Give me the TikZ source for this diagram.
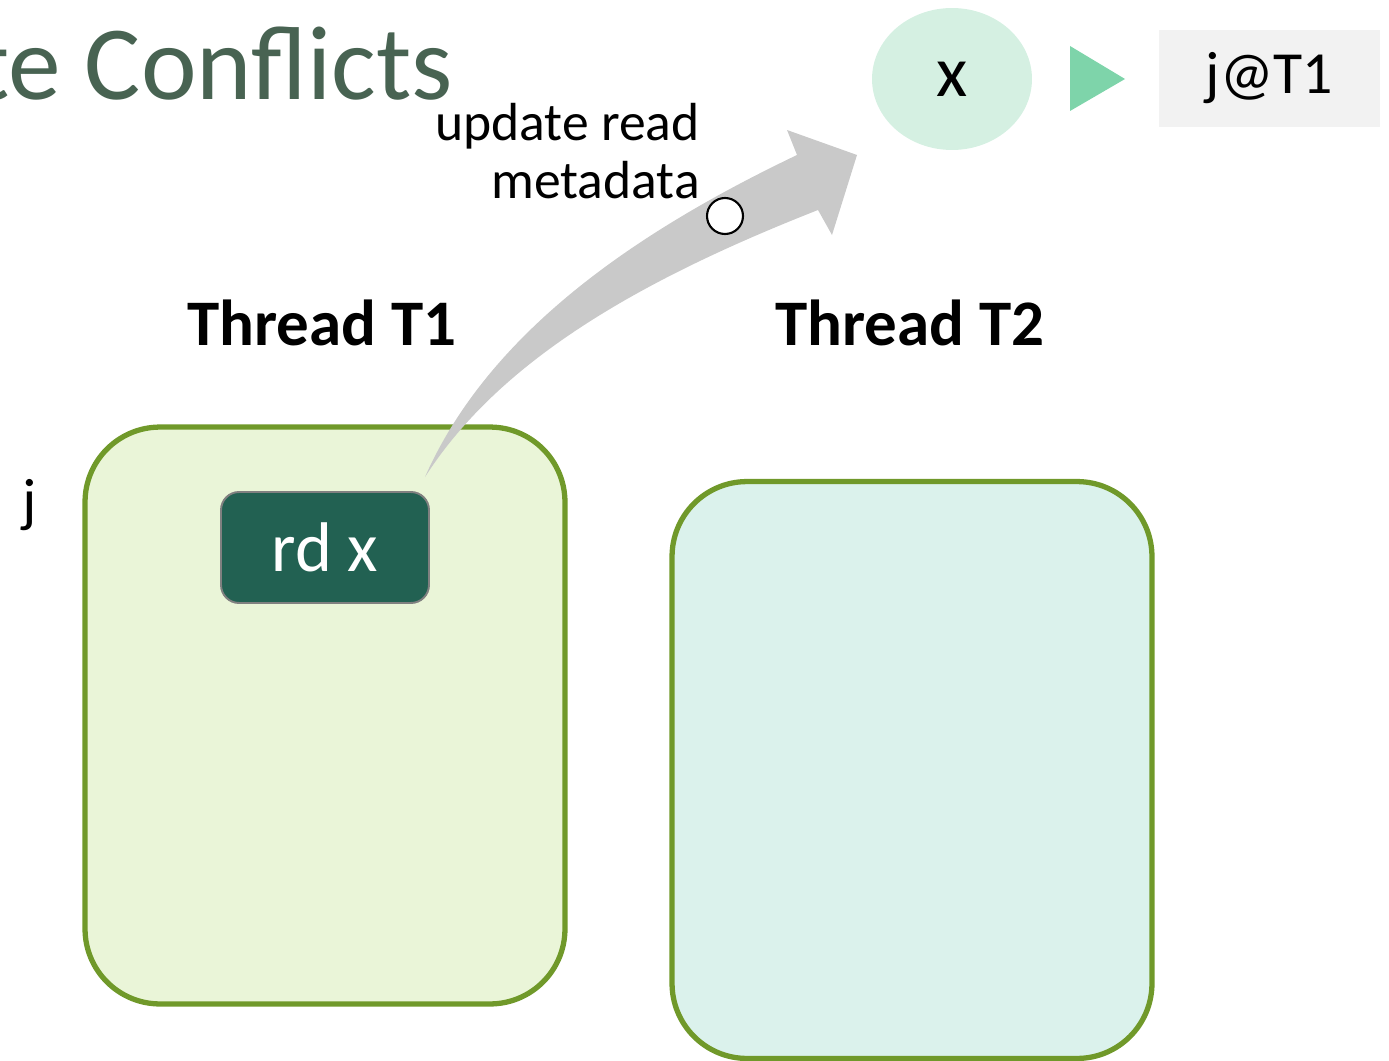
\documentclass[tikz,border=0pt]{standalone}
\usepackage{fontspec}
\setmainfont{Carlito}
\usetikzlibrary{shapes.geometric}
\definecolor{titlegreen}{HTML}{486352}
\definecolor{xfill}{HTML}{D5F0E2}
\definecolor{trigreen}{HTML}{7ED4AA}
\definecolor{tagfill}{HTML}{F2F2F2}
\definecolor{threadedge}{HTML}{70992A}
\definecolor{t1fill}{HTML}{EAF5D8}
\definecolor{t2fill}{HTML}{DBF2EC}
\definecolor{rdfill}{HTML}{226152}
\definecolor{rdedge}{HTML}{808080}
\definecolor{arrowgray}{HTML}{C9C9C9}
\begin{document}
\begin{tikzpicture}[x=0.02cm, y=-0.02cm,
    thread/.style={draw=threadedge, line width=3pt, rounded corners=1.5cm,
        minimum width=9.6cm, minimum height=11.54cm},
    threadname/.style={anchor=base, font=\fontsize{37}{44}\selectfont\bfseries},
    instr/.style={fill=rdfill, draw=rdedge, line width=1.1pt, rounded corners=0.36cm,
        minimum width=4.16cm, minimum height=2.22cm, text=white,
        font=\fontsize{40}{48}\selectfont}]
    \useasboundingbox (0,0) rectangle (1389,1061);

    \node[anchor=base east, inner sep=0, text=titlegreen, font=\fontsize{60}{72}\selectfont] (title) at (453,100) {te Conflicts};

    \node[ellipse, fill=xfill, minimum width=3.2cm, minimum height=2.84cm, font=\fontsize{41}{48}\selectfont] (var) at (952,79) {x};
    \fill[trigreen] (1070,46) -- (1125,79) -- (1070,111) -- cycle;
    \node[fill=tagfill, minimum width=4.42cm, minimum height=1.94cm, font=\fontsize{34}{40}\selectfont] (tag) at (1269.5,78.5) {j@T1};

    \node[thread, fill=t1fill] (t1) at (325,715.5) {};
    \node[thread, fill=t2fill] (t2) at (912,770) {};
    \node[threadname] (t1name) at (322,345) {Thread T1};
    \node[threadname] (t2name) at (910,345) {Thread T2};
    \node[anchor=base, font=\fontsize{34}{40}\selectfont] (j) at (30,520) {j};
    \node[instr] (rdx) at (325,547.5) {rd x};

    \coordinate (tail) at (425,477);
    \coordinate (tip) at (857,155);
    \fill[arrowgray] (tail) .. controls (490,330) and (640,230) .. (797,155) -- (787,130) -- (tip)
        -- (832,235) -- (818,210) .. controls (640,280) and (500,360) .. (tail) -- cycle;
    \node[circle, draw, fill=white, line width=1.2pt, minimum size=0.72cm, inner sep=0] (dot) at (725,216) {};
    \node[anchor=base east, align=right, inner sep=0, font=\fontsize{30.5}{33}\selectfont] (upd) at (700,198) {update read\\metadata};
\end{tikzpicture}
\end{document}
